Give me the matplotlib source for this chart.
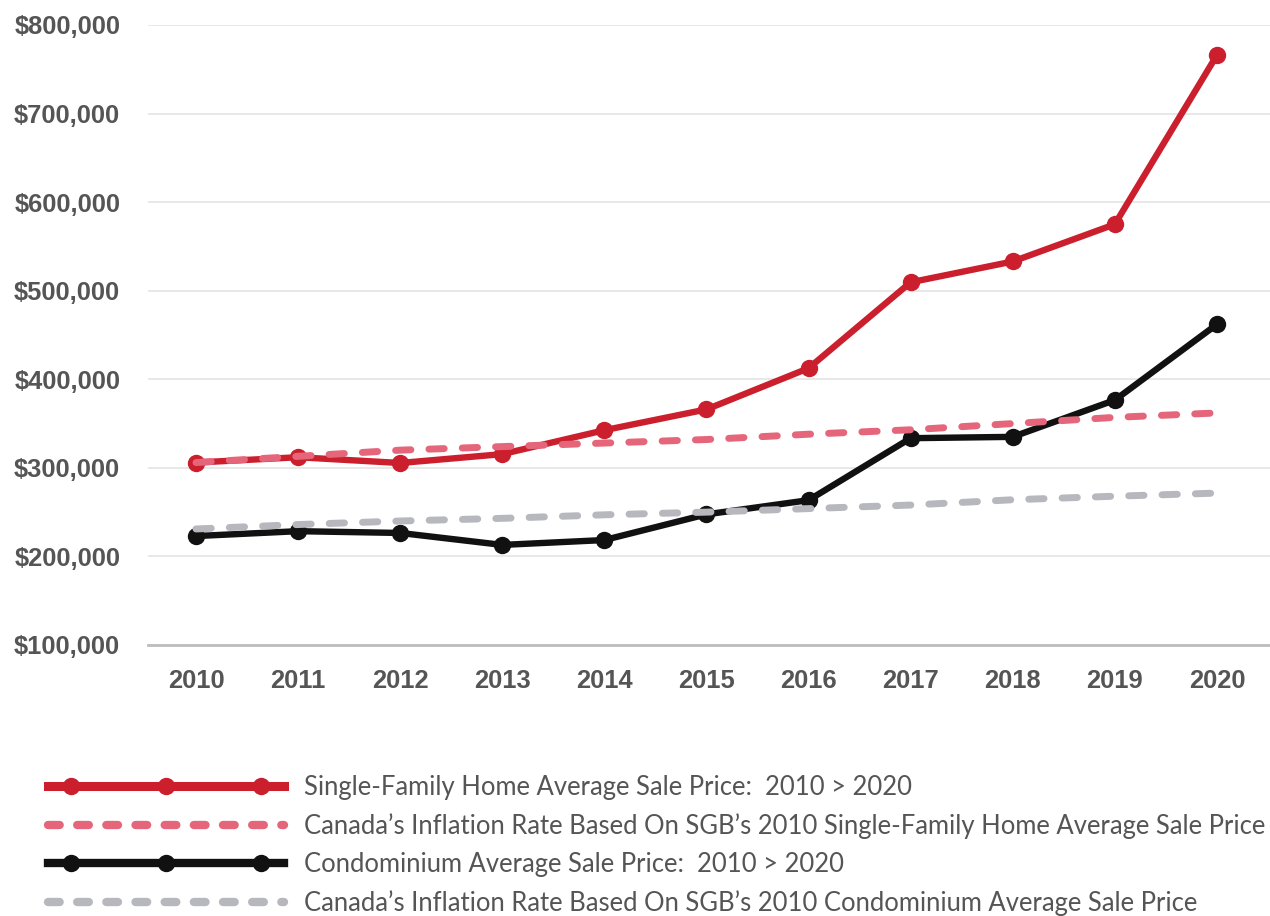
import matplotlib
matplotlib.use("Agg")
import matplotlib.pyplot as plt
from matplotlib.lines import Line2D
from matplotlib.legend_handler import HandlerLine2D
from matplotlib.ticker import FuncFormatter

years = [2010, 2011, 2012, 2013, 2014, 2015, 2016, 2017, 2018, 2019, 2020]
single_family = [306000, 312000, 305500, 315500, 342500, 366000, 412500, 509500, 533000, 575000, 766000]
sf_inflation = [306000, 313000, 320000, 324000, 328000, 332000, 338000, 343000, 350000, 357000, 362000]
condo = [223000, 228500, 226500, 213000, 218500, 247500, 263500, 333500, 335000, 376500, 462000]
condo_inflation = [231000, 236000, 240000, 243000, 247000, 250000, 254000, 258000, 264000, 268000, 271500]
y_ticks = [100000, 200000, 300000, 400000, 500000, 600000, 700000, 800000]
labels = [
    "Single-Family Home Average Sale Price:  2010 > 2020",
    "Canada\u2019s Inflation Rate Based On SGB\u2019s 2010 Single-Family Home Average Sale Price",
    "Condominium Average Sale Price:  2010 > 2020",
    "Canada\u2019s Inflation Rate Based On SGB\u2019s 2010 Condominium Average Sale Price",
]

RED = "#cc1f2e"
PINK = "#e5667a"
BLACK = "#111111"
GRAY = "#b7b7be"
TXT = "#555555"

fig = plt.figure(figsize=(12.7, 9.16), dpi=100)
ax = fig.add_axes([148 / 1270, 1 - 645 / 916, 1 - 148 / 1270, (645 - 25) / 916])

ax.set_xlim(2009.53, 2020.52)
ax.set_ylim(100000, 800000)

lw = 4.6
dlw = 5.0
dash = (2.2, 2.6)
ax.plot(years, single_family, color=RED, lw=lw, marker="o", ms=11.5, zorder=4, clip_on=False)
ax.plot(years, condo, color=BLACK, lw=lw, marker="o", ms=11.5, zorder=4, clip_on=False)
ax.plot(years, sf_inflation, color=PINK, lw=dlw, ls=(0, dash), dash_capstyle="round", zorder=5, clip_on=False)
ax.plot(years, condo_inflation, color=GRAY, lw=dlw, ls=(0, dash), dash_capstyle="round", zorder=5, clip_on=False)

ax.set_yticks(y_ticks)
ax.yaxis.set_major_formatter(FuncFormatter(lambda v, p: "${:,.0f}".format(v)))
ax.set_xticks(years)
ax.set_xticklabels([str(y) for y in years])
ax.grid(axis="y", color="#e6e6e6", lw=1.3, zorder=0)
ax.set_axisbelow(True)
for s in ["top", "right", "left"]:
    ax.spines[s].set_visible(False)
ax.spines["bottom"].set_color("#bdbdbd")
ax.spines["bottom"].set_linewidth(2)
ax.tick_params(axis="both", length=0, labelcolor=TXT)
ax.tick_params(axis="y", pad=20)
ax.tick_params(axis="x", pad=17)
for t in ax.get_yticklabels() + ax.get_xticklabels():
    t.set_fontfamily("Liberation Sans")
    t.set_fontweight("bold")
    t.set_fontsize(18.4)

# legend handles: full-width line + inset markers
leg_fs = 18.45
red_line = Line2D([], [], color=RED, lw=6.5)
red_marks = Line2D([], [], color=RED, ls="none", marker="o", ms=11.5)
pink_line = Line2D([], [], color=PINK, lw=6, ls=(0, (1.4, 2.1)), dash_capstyle="round")
black_line = Line2D([], [], color=BLACK, lw=6)
black_marks = Line2D([], [], color=BLACK, ls="none", marker="o", ms=11.5)
gray_line = Line2D([], [], color=GRAY, lw=6, ls=(0, (1.4, 2.1)), dash_capstyle="round")

full = HandlerLine2D(marker_pad=0.0, numpoints=2)
inset = HandlerLine2D(marker_pad=0.88, numpoints=3)
hmap = {red_line: full, red_marks: inset, pink_line: full,
        black_line: full, black_marks: inset, gray_line: full}

handles = [(red_line, red_marks), pink_line, (black_line, black_marks), gray_line]
leg = fig.legend(handles, labels, loc="upper left", bbox_to_anchor=(48 / 1270, 1 - 775 / 916),
                 frameon=False, borderpad=0, borderaxespad=0,
                 handlelength=9.2, handletextpad=0.78, labelspacing=0.51,
                 prop={"family": "Lato", "size": leg_fs},
                 handler_map=hmap)
for t in leg.get_texts():
    t.set_color(TXT)

fig.savefig("out.png", dpi=100)
